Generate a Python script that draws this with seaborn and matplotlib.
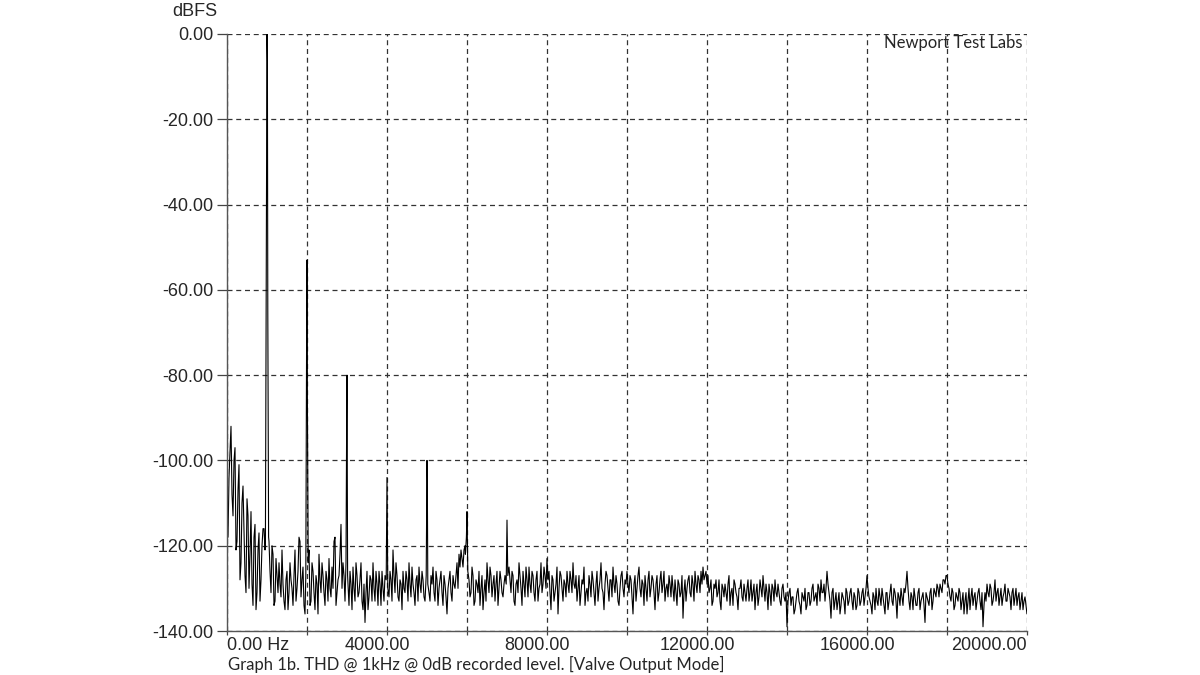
import numpy as np
import pandas as pd
import seaborn as sns
import matplotlib.pyplot as plt
from matplotlib.transforms import ScaledTranslation

# noise floor, every 50 Hz from 0 to 20000 Hz
noise_db = [
    # 0 - 950
    -112, -104, -92, -113, -97, -119, -101, -124, -106, -127,
    -109, -130, -112, -134, -115, -131, -117, -128, -116, -121,
    # 1000 - 1950
    -120, -119, -131, -122, -133, -127, -124, -132, -129, -135,
    -126, -131, -128, -134, -121, -130, -118, -132, -125, -136,
    # 2000 - 2950
    -125, -121, -133, -126, -135, -129, -122, -131, -127, -134,
    -128, -123, -132, -130, -118, -131, -127, -115, -124, -133,
    # 3000 - 3950
    -128, -134, -129, -125, -133, -127, -131, -124, -135, -138,
    -126, -132, -128, -124, -133, -129, -126, -134, -130, -127,
    # 4000 - 4950
    -130, -132, -128, -121, -131, -127, -133, -129, -126, -131,
    -128, -124, -132, -129, -134, -127, -125, -131, -128, -133,
    # 5000 - 5950
    -129, -131, -127, -125, -133, -128, -130, -126, -134, -129,
    -136, -128, -131, -127, -130, -124, -122, -121, -125, -120,
    # 6000 - 6950
    -126, -128, -131, -127, -133, -129, -126, -130, -135, -128,
    -124, -131, -127, -129, -133, -126, -130, -128, -132, -127,
    # 7000 - 7950
    -129, -125, -131, -127, -134, -128, -124, -130, -126, -132,
    -128, -125, -131, -127, -133, -126, -130, -124, -129, -127,
    # 8000 - 8950
    -123, -126, -135, -128, -131, -125, -130, -127, -133, -129,
    -126, -131, -128, -124, -130, -133, -127, -131, -129, -134,
    # 9000 - 9950
    -130, -127, -132, -128, -134, -126, -130, -124, -131, -129,
    -127, -133, -128, -125, -131, -129, -134, -127, -130, -128,
    # 10000 - 10950
    -126, -131, -128, -136, -127, -130, -125, -132, -129, -127,
    -133, -126, -130, -128, -135, -127, -131, -126, -129, -133,
    # 11000 - 11950
    -129, -127, -132, -130, -128, -134, -129, -131, -137, -128,
    -130, -127, -132, -129, -126, -131, -128, -126, -125, -127,
    # 12000 - 12950
    -129, -131, -128, -133, -130, -132, -128, -135, -130, -129,
    -133, -127, -131, -134, -129, -132, -130, -128, -133, -131,
    # 13000 - 13950
    -130, -133, -128, -131, -135, -129, -132, -130, -127, -133,
    -131, -129, -134, -130, -128, -132, -131, -134, -129, -133,
    # 14000 - 14950
    -139, -131, -134, -132, -135, -131, -133, -136, -132, -130,
    -134, -131, -133, -129, -132, -134, -130, -128, -131, -133,
    # 15000 - 15950
    -126, -131, -137, -130, -133, -135, -131, -134, -132, -136,
    -131, -133, -130, -135, -132, -134, -131, -133, -130, -132,
    # 16000 - 16950
    -127, -132, -134, -131, -135, -133, -130, -134, -132, -136,
    -131, -133, -129, -134, -131, -137, -132, -130, -134, -131,
    # 17000 - 17950
    -126, -133, -131, -135, -132, -134, -130, -133, -131, -138,
    -132, -134, -130, -133, -131, -129, -132, -130, -128, -129,
    # 18000 - 18950
    -127, -130, -133, -131, -134, -132, -130, -135, -131, -133,
    -136, -130, -132, -134, -131, -133, -130, -135, -139, -131,
    # 19000 - 20000
    -129, -132, -130, -133, -128, -131, -134, -130, -132, -129,
    -133, -131, -135, -130, -132, -134, -131, -133, -135, -132,
    -136,
]
noise_hz = [i * 50 for i in range(len(noise_db))]

# in-between bins, 25 Hz past each of the points above
noise_mid_db = [
    -118, -98, -108, -100, -121, -107, -128, -110, -116, -131,
    -113, -122, -129, -118, -135, -121, -133, -120, -116, -118,
    -120, -126, -120, -134, -123, -131, -129, -121, -133, -128,
    -135, -124, -130, -127, -133, -126, -119, -128, -134, -127,
    -129, -134, -124, -131, -127, -136, -128, -124, -131, -126,
    -133, -130, -125, -119, -134, -128, -122, -130, -127, -126,
    -131, -126, -135, -130, -124, -132, -128, -133, -129, -131,
    -135, -127, -133, -130, -126, -134, -129, -126, -133, -128,
    -127, -126, -133, -127, -124, -132, -128, -135, -130, -126,
    -133, -129, -125, -131, -128, -133, -129, -126, -132, -130,
    -126, -133, -129, -131, -126, -134, -128, -131, -127, -132,
    -130, -126, -133, -129, -127, -130, -125, -123, -121, -119,
    -121, -132, -125, -134, -128, -131, -134, -127, -131, -133,
    -128, -125, -132, -127, -129, -134, -126, -131, -129, -130,
    -132, -128, -126, -133, -129, -131, -127, -134, -129, -125,
    -132, -129, -126, -131, -128, -133, -129, -131, -125, -130,
    -128, -131, -127, -133, -129, -136, -126, -130, -128, -132,
    -129, -126, -131, -129, -127, -130, -134, -128, -125, -131,
    -133, -129, -126, -131, -129, -133, -128, -130, -135, -126,
    -130, -128, -132, -129, -127, -133, -130, -126, -132, -129,
    -129, -127, -132, -129, -133, -127, -130, -128, -134, -130,
    -128, -132, -127, -131, -129, -133, -128, -131, -126, -130,
    -132, -129, -127, -133, -131, -128, -132, -127, -131, -133,
    -128, -131, -127, -133, -129, -127, -131, -129, -128, -126,
    -127, -130, -134, -129, -128, -131, -133, -129, -132, -131,
    -129, -134, -130, -128, -131, -135, -130, -132, -129, -133,
    -128, -131, -133, -129, -131, -134, -128, -132, -130, -129,
    -135, -131, -129, -133, -131, -129, -133, -130, -132, -131,
    -133, -130, -132, -136, -133, -130, -134, -131, -133, -135,
    -131, -134, -130, -133, -131, -129, -133, -131, -129, -130,
    -129, -133, -131, -135, -131, -133, -136, -131, -133, -130,
    -134, -131, -133, -131, -135, -130, -134, -131, -134, -130,
    -130, -133, -136, -132, -130, -134, -132, -130, -134, -131,
    -135, -131, -133, -130, -133, -131, -134, -132, -130, -129,
    -130, -135, -132, -130, -134, -131, -135, -132, -134, -131,
    -133, -131, -135, -130, -132, -130, -129, -131, -128, -127,
    -129, -132, -130, -135, -131, -133, -131, -133, -136, -131,
    -133, -135, -130, -132, -135, -131, -133, -131, -134, -133,
    -131, -129, -134, -131, -133, -130, -132, -134, -131, -133,
    -130, -132, -131, -134, -130, -132, -135, -131, -133, -134,
]
noise_mid_hz = [25 + i * 50 for i in range(len(noise_mid_db))]

# harmonic spikes (1 kHz fundamental and harmonics 2..7)
harmonics = [1000, 2000, 3000, 4000, 5000, 6000, 7000]
spike_hz = [960, 975, 1000, 1010, 1020, 1040,
            1970, 1995, 2000, 2010, 2030,
            2975, 2992, 3000, 3015,
            3980, 4000, 4020,
            4980, 5000, 5008, 5020,
            5960, 5985, 6000, 6020,
            6980, 7000, 7020]
spike_db = [-120, -72, 0, -6.5, -65, -118,
            -127, -58, -53, -86, -124,
            -124, -90, -80, -127,
            -128, -104, -130,
            -127, -100, -105, -129,
            -122, -118, -112, -126,
            -129, -114, -127]

xtick_vals = [0, 4000, 8000, 12000, 16000, 20000]
xtick_text = ['0.00 Hz', '4000.00', '8000.00', '12000.00', '16000.00', '20000.00']
ytick_vals = [0, -20, -40, -60, -80, -100, -120, -140]

noise = pd.DataFrame({'hz': noise_hz + noise_mid_hz,
                      'db': noise_db + noise_mid_db})
keep = np.ones(len(noise), dtype=bool)
for h in harmonics:
    keep &= (noise['hz'] - h).abs() > 30
df = pd.concat([noise[keep], pd.DataFrame({'hz': spike_hz, 'db': spike_db})])
df = df.sort_values('hz').reset_index(drop=True)

sns.set_style('white')
plt.rcParams['font.family'] = ['Liberation Sans', 'DejaVu Sans']

fig = plt.figure(figsize=(12, 6.75), dpi=100)
ax = fig.add_axes([227 / 1200, 44 / 675, 800 / 1200, 597 / 675])

sns.lineplot(data=df, x='hz', y='db', ax=ax, color='black', linewidth=0.8,
             sort=True, estimator=None)

ax.set_xlim(0, 20000)
ax.set_ylim(-140, 0)
ax.set_xlabel('')
ax.set_ylabel('')

ax.set_xticks(xtick_vals)
ax.set_xticklabels(xtick_text, fontsize=13)
ax.set_xticks(range(2000, 20001, 2000), minor=True)
ax.set_yticks(ytick_vals)
ax.set_yticklabels([f'{v:.2f}' for v in ytick_vals], fontsize=13)

ax.grid(which='both', color='#333333', linestyle=(0, (4, 3)), linewidth=0.9)
ax.set_axisbelow(True)

for s in ['top', 'right']:
    ax.spines[s].set_visible(False)
for s in ['left', 'bottom']:
    ax.spines[s].set_color('#555555')
    ax.spines[s].set_linewidth(1.0)

ax.tick_params(axis='y', which='major', left=True, length=7, width=0.9,
               color='#444444', pad=3)
ax.tick_params(axis='x', which='both', bottom=True, length=3, width=0.9,
               color='#444444', pad=1)

# shift x labels like the original software draws them
labels = ax.get_xticklabels()
for i, lab in enumerate(labels):
    if i == 0:
        lab.set_ha('left')
    elif i == len(labels) - 1:
        lab.set_ha('right')
    else:
        lab.set_transform(lab.get_transform() +
                          ScaledTranslation(-0.10, 0, fig.dpi_scale_trans))

fig.text(217 / 1200, 1 - 12 / 675, 'dBFS', ha='right', va='center', fontsize=13)
fig.text(1022 / 1200, 1 - 43 / 675, 'Newport Test Labs', ha='right', va='center',
         fontsize=12, family=['Lato', 'DejaVu Sans'])
fig.text(228 / 1200, 1 - 664 / 675,
         'Graph 1b. THD @ 1kHz @ 0dB recorded level. [Valve Output Mode]',
         ha='left', va='center', fontsize=12, family=['Lato', 'DejaVu Sans'])

fig.savefig('out.png', dpi=100, facecolor='white')
